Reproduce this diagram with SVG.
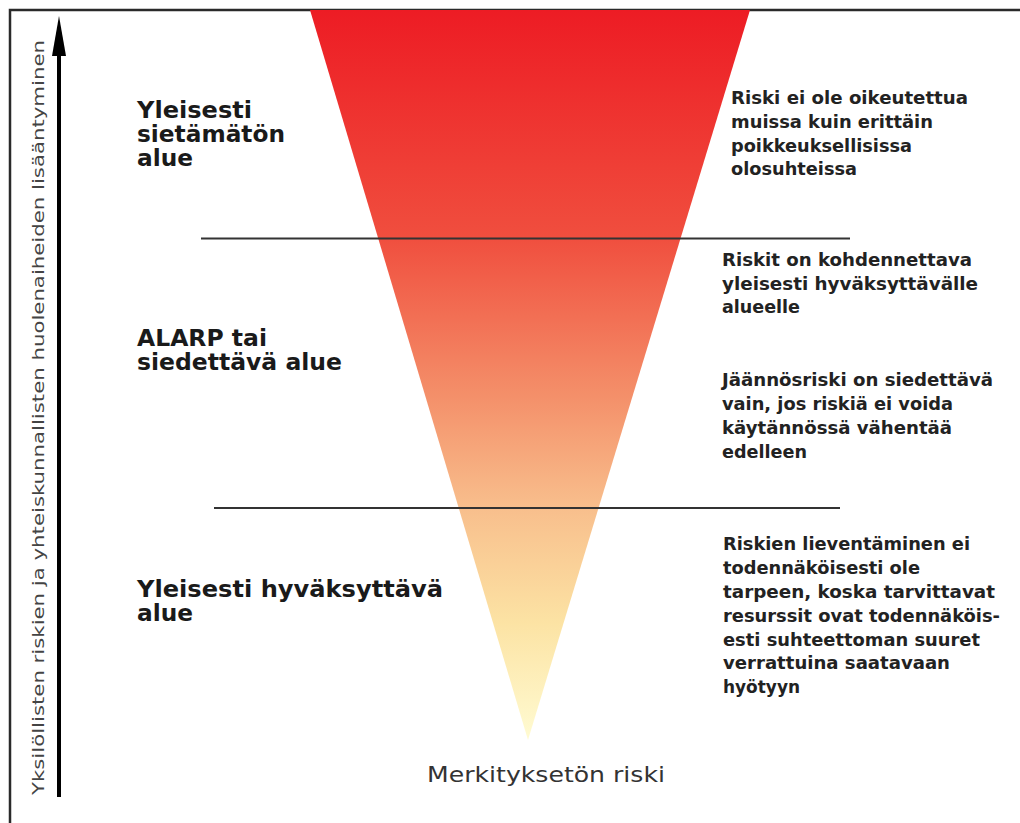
<svg xmlns="http://www.w3.org/2000/svg" width="1020" height="823" viewBox="0 0 1020 823">
<defs>
<linearGradient id="riskGrad" x1="0" y1="10" x2="0" y2="740" gradientUnits="userSpaceOnUse">
<stop offset="0" stop-color="#ED1C24"/>
<stop offset="0.31" stop-color="#F04E3E"/>
<stop offset="0.53" stop-color="#F4906A"/>
<stop offset="0.68" stop-color="#F8BE8C"/>
<stop offset="0.84" stop-color="#FCE3A4"/>
<stop offset="1" stop-color="#FFFBD2"/>
</linearGradient>
<style>
.zone{font-family:"DejaVu Sans",Verdana,sans-serif;font-weight:bold;font-size:23px;fill:#1a1a1a}
.note{font-family:"DejaVu Sans",Verdana,sans-serif;font-weight:bold;font-size:18px;fill:#222}
.axis{font-family:"DejaVu Sans",Verdana,sans-serif;font-size:16px;fill:#444}
.foot{font-family:"DejaVu Sans",Verdana,sans-serif;font-size:22px;fill:#333}
.sep{stroke:#333;stroke-width:2;fill:none}
</style>
</defs>
<rect x="0" y="0" width="1020" height="823" fill="#fff"/>
<g id="frame">
<path d="M10,823 L10,10 L1020,10" fill="none" stroke="#2a2a2a" stroke-width="2.5"/>
</g>
<g id="triangle">
<polygon points="310,10 750,10 528,740" fill="url(#riskGrad)"/>
</g>
<g id="connectors">
<line class="sep" x1="201" y1="238.5" x2="850" y2="238.5"/>
<line class="sep" x1="214" y1="508" x2="840" y2="508"/>
<line x1="59" y1="797" x2="59" y2="56" stroke="#000" stroke-width="4"/>
<polygon points="59,16 66,56 52,56" fill="#000"/>
</g>
<g id="axis-label">
<text class="axis" transform="translate(44,795) rotate(-90)" textLength="755" lengthAdjust="spacingAndGlyphs">Yksilöllisten riskien ja yhteiskunnallisten huolenaiheiden lisääntyminen</text>
</g>
<g id="zone-unacceptable">
<text class="zone" x="137" y="118" textLength="115" lengthAdjust="spacingAndGlyphs">Yleisesti</text>
<text class="zone" x="137" y="142" textLength="148" lengthAdjust="spacingAndGlyphs">sietämätön</text>
<text class="zone" x="137" y="166" textLength="56" lengthAdjust="spacingAndGlyphs">alue</text>
</g>
<g id="zone-alarp">
<text class="zone" x="137" y="346" textLength="130" lengthAdjust="spacingAndGlyphs">ALARP tai</text>
<text class="zone" x="137" y="370" textLength="205" lengthAdjust="spacingAndGlyphs">siedettävä alue</text>
</g>
<g id="zone-acceptable">
<text class="zone" x="137" y="597" textLength="306" lengthAdjust="spacingAndGlyphs">Yleisesti hyväksyttävä</text>
<text class="zone" x="137" y="621" textLength="56" lengthAdjust="spacingAndGlyphs">alue</text>
</g>
<g id="note-unacceptable">
<text class="note" x="731" y="104" textLength="237" lengthAdjust="spacingAndGlyphs">Riski ei ole oikeutettua</text>
<text class="note" x="731" y="128" textLength="202" lengthAdjust="spacingAndGlyphs">muissa kuin erittäin</text>
<text class="note" x="731" y="152" textLength="181" lengthAdjust="spacingAndGlyphs">poikkeuksellisissa</text>
<text class="note" x="731" y="175" textLength="126" lengthAdjust="spacingAndGlyphs">olosuhteissa</text>
</g>
<g id="note-alarp-1">
<text class="note" x="722" y="266" textLength="250" lengthAdjust="spacingAndGlyphs">Riskit on kohdennettava</text>
<text class="note" x="722" y="290" textLength="256" lengthAdjust="spacingAndGlyphs">yleisesti hyväksyttävälle</text>
<text class="note" x="722" y="313" textLength="78" lengthAdjust="spacingAndGlyphs">alueelle</text>
</g>
<g id="note-alarp-2">
<text class="note" x="722" y="386" textLength="271" lengthAdjust="spacingAndGlyphs">Jäännösriski on siedettävä</text>
<text class="note" x="722" y="410" textLength="231" lengthAdjust="spacingAndGlyphs">vain, jos riskiä ei voida</text>
<text class="note" x="722" y="434" textLength="230" lengthAdjust="spacingAndGlyphs">käytännössä vähentää</text>
<text class="note" x="722" y="458" textLength="85" lengthAdjust="spacingAndGlyphs">edelleen</text>
</g>
<g id="note-acceptable">
<text class="note" x="723" y="550" textLength="247" lengthAdjust="spacingAndGlyphs">Riskien lieventäminen ei</text>
<text class="note" x="723" y="574" textLength="197" lengthAdjust="spacingAndGlyphs">todennäköisesti ole</text>
<text class="note" x="723" y="598" textLength="272" lengthAdjust="spacingAndGlyphs">tarpeen, koska tarvittavat</text>
<text class="note" x="723" y="622" textLength="277" lengthAdjust="spacingAndGlyphs">resurssit ovat todennäköis-</text>
<text class="note" x="723" y="646" textLength="257" lengthAdjust="spacingAndGlyphs">esti suhteettoman suuret</text>
<text class="note" x="723" y="669" textLength="227" lengthAdjust="spacingAndGlyphs">verrattuina saatavaan</text>
<text class="note" x="723" y="693" textLength="77" lengthAdjust="spacingAndGlyphs">hyötyyn</text>
</g>
<g id="bottom-label">
<text class="foot" x="427" y="782" textLength="238" lengthAdjust="spacingAndGlyphs">Merkityksetön riski</text>
</g>
</svg>
